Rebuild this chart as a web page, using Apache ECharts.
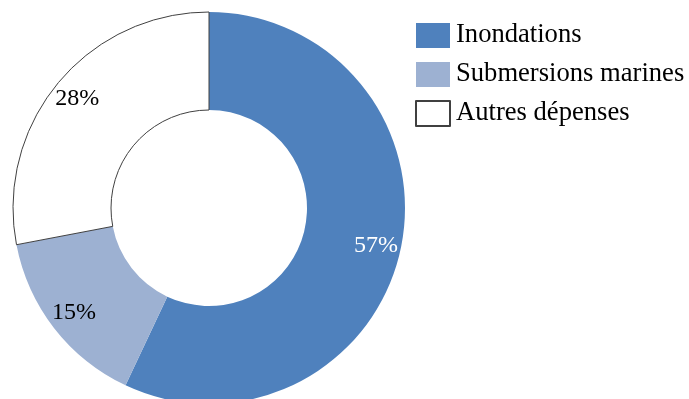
<!DOCTYPE html>
<html>
<head>
<meta charset="utf-8">
<script src="https://cdn.jsdelivr.net/npm/echarts@6/dist/echarts.min.js"></script>
<style>
  html, body { margin: 0; padding: 0; background: #ffffff; }
  #chart { width: 689px; height: 399px; }
</style>
</head>
<body>
<div id="chart"></div>
<script>
// données
const categories = ["Inondations", "Submersions marines", "Autres dépenses"];
const parts = [57, 15, 28];
const colors = ["#4f81bd", "#9db1d2", "#ffffff"];
const labelColors = ["#ffffff", "#000000", "#000000"];

const font = "'Liberation Serif', 'DejaVu Serif', serif";

const mainData = categories.map((name, i) => ({
  name: name,
  value: parts[i],
  itemStyle: {
    color: colors[i],
    borderColor: i === 2 ? "#404040" : colors[i],
    borderWidth: i === 2 ? 1 : 0
  }
}));

// deuxième anneau transparent, seulement pour placer les étiquettes
const labelData = categories.map((name, i) => ({
  name: name,
  value: parts[i],
  label: { color: labelColors[i] }
}));

var chart = echarts.init(document.getElementById("chart"));
chart.setOption({
  animation: false,
  legend: {
    orient: "vertical",
    left: 415,
    top: 22,
    padding: 0,
    icon: "rect",
    itemWidth: 34,
    itemHeight: 25,
    itemGap: 12,
    selectedMode: false,
    textStyle: { fontFamily: font, fontSize: 26.6, color: "#000000", padding: [0, 0, 0, 1] },
    data: categories
  },
  series: [
    {
      type: "pie",
      center: [209, 208],
      radius: [98, 196],
      startAngle: 90,
      clockwise: true,
      silent: true,
      label: { show: false },
      labelLine: { show: false },
      data: mainData
    },
    {
      type: "pie",
      center: [209, 208],
      radius: [140, 196],
      startAngle: 90,
      clockwise: true,
      silent: true,
      itemStyle: { color: "transparent", borderWidth: 0 },
      label: {
        show: true,
        position: "inside",
        formatter: "{c}%",
        fontFamily: font,
        fontSize: 24
      },
      labelLine: { show: false },
      data: labelData
    }
  ]
});
</script>
</body>
</html>
